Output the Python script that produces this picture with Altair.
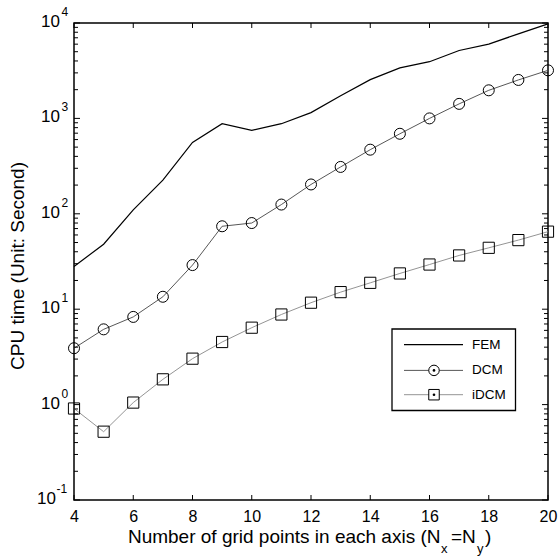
import altair as alt
import pandas as pd

# ---------------- data ----------------
x_vals = list(range(4, 21))
fem = [28, 48, 110, 225, 560, 880, 750, 880, 1150, 1730, 2550, 3380, 3930, 5150, 6000, 7700, 9800]
dcm = [3.9, 6.15, 8.3, 13.5, 29, 74, 80, 125, 203, 310, 470, 690, 1000, 1420, 1970, 2530, 3190]
idcm = [0.91, 0.52, 1.05, 1.84, 3.03, 4.53, 6.4, 8.8, 11.7, 15.1, 18.9, 23.7, 29.4, 36.6, 44, 53, 65]
series_names = ["FEM", "DCM", "iDCM"]
x_ticks = [4, 6, 8, 10, 12, 14, 16, 18, 20]
y_exponents = [-1, 0, 1, 2, 3, 4]
minor_mult = [2, 3, 4, 5, 6, 7, 8, 9]
y_title = "CPU time (Unit: Second)"
x_title_parts = ["Number of grid points in each axis (N", "x", "=N", "y", ")"]

W, H = 474, 477
FONT = "Liberation Sans"

df = pd.DataFrame({
    "x": x_vals * 3,
    "y": fem + dcm + idcm,
    "series": [series_names[0]] * 17 + [series_names[1]] * 17 + [series_names[2]] * 17,
})

xs = alt.Scale(domain=[4, 20], nice=False, zero=False)
ys = alt.Scale(type="log", domain=[0.1, 10000], nice=False)
X = alt.X("x:Q", scale=xs, axis=alt.Axis(values=x_ticks, ticks=False, domain=False, grid=False,
                                         labelFontSize=16, labelFont=FONT, labelColor="black",
                                         labelPadding=8, labelFlush=False, labelOverlap=False,
                                         title=None, format="d"))
Y = alt.Y("y:Q", scale=ys, axis=None)

base = alt.Chart(df)
fem_line = base.transform_filter(alt.datum.series == "FEM").mark_line(
    color="black", strokeWidth=1.2).encode(x=X, y=Y)
dcm_line = base.transform_filter(alt.datum.series == "DCM").mark_line(
    color="#444444", strokeWidth=0.9).encode(x=X, y=Y)
dcm_pts = base.transform_filter(alt.datum.series == "DCM").mark_point(
    shape="circle", size=121, color="black", strokeWidth=1, filled=False, opacity=1).encode(x=X, y=Y)
idcm_line = base.transform_filter(alt.datum.series == "iDCM").mark_line(
    color="#888888", strokeWidth=0.9).encode(x=X, y=Y)
idcm_pts = base.transform_filter(alt.datum.series == "iDCM").mark_point(
    shape="square", size=125, color="black", strokeWidth=1, filled=False, opacity=1).encode(x=X, y=Y)

# ---------------- inward ticks ----------------
ymaj = pd.DataFrame({"v": [10.0 ** e for e in y_exponents]})
ymin = pd.DataFrame({"v": [m * 10.0 ** e for e in y_exponents[:-1] for m in minor_mult]})
xt = pd.DataFrame({"x": x_ticks})
Yv = alt.Y("v:Q", scale=ys, axis=None)

tick_layers = [
    alt.Chart(ymaj).mark_rule(color="black", strokeWidth=1).encode(y=Yv, x=alt.value(0), x2=alt.value(6)),
    alt.Chart(ymaj).mark_rule(color="black", strokeWidth=1).encode(y=Yv, x=alt.value(W - 6), x2=alt.value(W)),
    alt.Chart(ymin).mark_rule(color="black", strokeWidth=1).encode(y=Yv, x=alt.value(0), x2=alt.value(4)),
    alt.Chart(ymin).mark_rule(color="black", strokeWidth=1).encode(y=Yv, x=alt.value(W - 4), x2=alt.value(W)),
    alt.Chart(xt).mark_rule(color="black", strokeWidth=1).encode(x=X, y=alt.value(H), y2=alt.value(H - 5)),
    alt.Chart(xt).mark_rule(color="black", strokeWidth=1).encode(x=X, y=alt.value(0), y2=alt.value(5)),
]

# ---------------- y tick labels 10^e ----------------
ylab = pd.DataFrame({"v": [10.0 ** e for e in y_exponents], "e": [str(e) for e in y_exponents]})
ylab_base = alt.Chart(ylab).transform_calculate(
    xt="datum.e == '-1' ? -18 : -14",
    xe="datum.e == '-1' ? -17.5 : -12.5",
)
ten = ylab_base.mark_text(align="right", baseline="middle", fontSize=17, font=FONT, color="black", dy=-1).encode(
    y=Yv, x=alt.X("xt:Q", scale=None), text=alt.value("10"))
expo = ylab_base.mark_text(align="left", baseline="middle", fontSize=12, font=FONT, color="black", dy=-11).encode(
    y=Yv, x=alt.X("xe:Q", scale=None), text="e:N")

# ---------------- titles ----------------
one = pd.DataFrame({"a": [0]})
TY = 520
ytitle = alt.Chart(one).mark_text(angle=270, align="center", baseline="middle", fontSize=19, font=FONT,
                                  color="black").encode(x=alt.value(-56), y=alt.value(243), text=alt.value(y_title))
xt_main = alt.Chart(one).mark_text(align="right", baseline="alphabetic", fontSize=19, font=FONT, color="black").encode(
    x=alt.value(366.5), y=alt.value(TY), text=alt.value(x_title_parts[0]))
xt_sub1 = alt.Chart(one).mark_text(align="left", baseline="alphabetic", fontSize=13, font=FONT, color="black").encode(
    x=alt.value(367), y=alt.value(TY + 10), text=alt.value(x_title_parts[1]))
xt_eq = alt.Chart(one).mark_text(align="left", baseline="alphabetic", fontSize=19, font=FONT, color="black").encode(
    x=alt.value(377), y=alt.value(TY), text=alt.value(x_title_parts[2]))
xt_sub2 = alt.Chart(one).mark_text(align="left", baseline="alphabetic", fontSize=13, font=FONT, color="black").encode(
    x=alt.value(403), y=alt.value(TY + 10), text=alt.value(x_title_parts[3]))
xt_close = alt.Chart(one).mark_text(align="left", baseline="alphabetic", fontSize=19, font=FONT, color="black").encode(
    x=alt.value(411), y=alt.value(TY), text=alt.value(x_title_parts[4]))

# ---------------- legend ----------------
lx0, lx1, ly0, ly1 = 318, 441.5, 306, 387.5
rows = [321.7, 347.4, 371.7]
lcolors = ["black", "#444444", "#888888"]
leg = [alt.Chart(one).mark_rect(fill="white", stroke="black", strokeWidth=1.3).encode(
    x=alt.value(lx0), x2=alt.value(lx1), y=alt.value(ly0), y2=alt.value(ly1))]
for i, name in enumerate(series_names):
    leg.append(alt.Chart(one).mark_rule(color=lcolors[i], strokeWidth=1.2 if i == 0 else 0.9).encode(
        x=alt.value(330), x2=alt.value(389), y=alt.value(rows[i])))
    leg.append(alt.Chart(one).mark_text(align="left", baseline="middle", fontSize=13.5, font=FONT, color="black").encode(
        x=alt.value(398), y=alt.value(rows[i]), text=alt.value(name)))
leg.append(alt.Chart(one).mark_point(shape="circle", size=110, color="black", filled=False, strokeWidth=1,
                                     opacity=1, fill="white").encode(x=alt.value(360), y=alt.value(rows[1])))
leg.append(alt.Chart(one).mark_point(shape="square", size=110, color="black", filled=False, strokeWidth=1,
                                     opacity=1, fill="white").encode(x=alt.value(360), y=alt.value(rows[2])))
for r in rows[1:]:
    leg.append(alt.Chart(one).mark_point(shape="circle", size=7, color="black", filled=True, opacity=1).encode(
        x=alt.value(360), y=alt.value(r)))

chart = alt.layer(
    fem_line, dcm_line, idcm_line, dcm_pts, idcm_pts,
    *tick_layers, ten, expo, ytitle, xt_main, xt_sub1, xt_eq, xt_sub2, xt_close, *leg
).properties(
    width=W, height=H,
    padding={"left": 74, "top": 23, "right": 10, "bottom": 57},
    autosize=alt.AutoSizeParams(type="none"),
    background="white",
).configure_view(stroke="black", strokeWidth=1.5)

chart.save("out.html", embed_options={"renderer": "svg", "actions": False})
